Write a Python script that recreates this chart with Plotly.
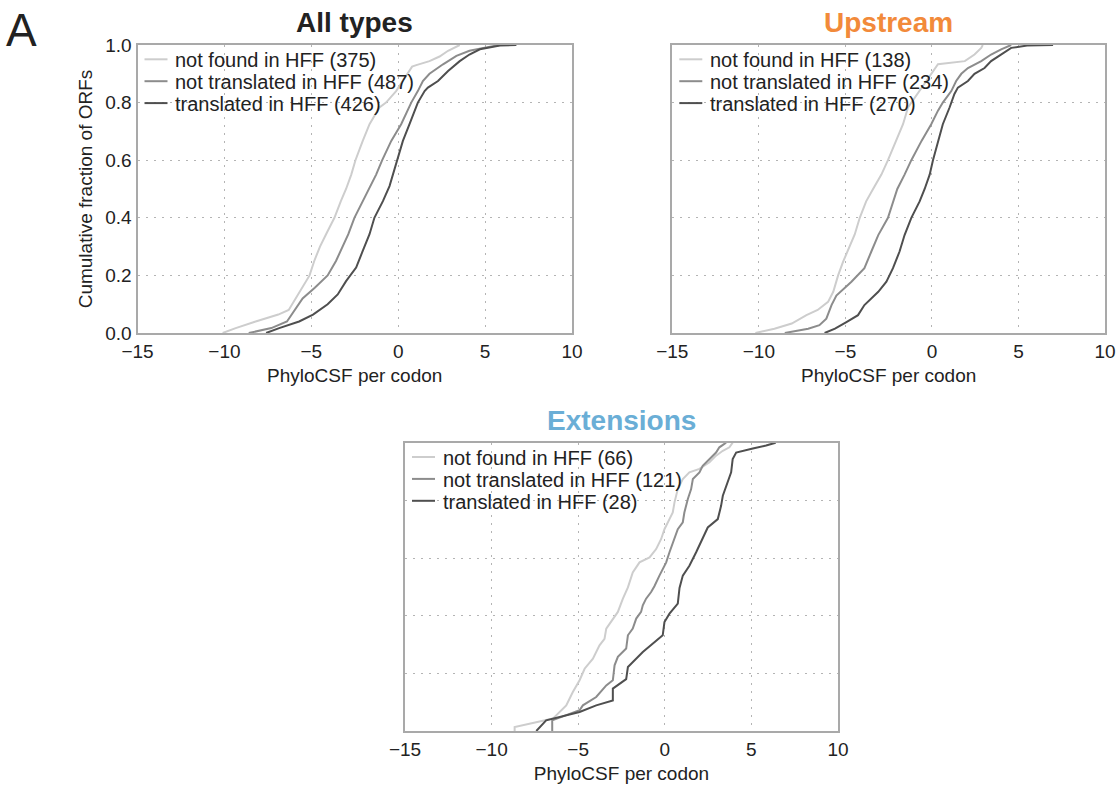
import plotly.graph_objects as go

W, H = 1119, 787

# ---------------- data ----------------
series_names = ["not found in HFF", "not translated in HFF", "translated in HFF"]
panel_titles = ["All types", "Upstream", "Extensions"]

# All types
all_counts = [375, 487, 426]
all_notfound_x = [-10.1, -9.35, -8.2, -6.9, -6.3, -5.9, -5.5, -5.1, -4.83, -4.5, -4.15, -3.67, -3.3, -3.0,
                  -2.7, -2.46, -2.04, -1.65, -1.08, -0.7, -0.12, 0.27, 0.65, 0.8, 1.04, 1.8, 2.38, 2.87, 3.54]
all_notfound_f = [0.0, 0.017, 0.04, 0.064, 0.08, 0.12, 0.157, 0.2, 0.25, 0.3, 0.343, 0.4, 0.458, 0.5,
                  0.55, 0.6, 0.667, 0.725, 0.783, 0.8, 0.84, 0.875, 0.91, 0.925, 0.93, 0.944, 0.96, 0.98, 1.0]
all_nottrans_x = [-8.6, -7.3, -6.4, -6.0, -5.5, -4.8, -4.06, -3.58, -3.2, -2.87, -2.52, -2.04, -1.65,
                  -1.27, -0.92, -0.4, 0.17, 0.75, 1.13, 1.42, 1.8, 2.58, 3.35, 4.1, 4.9, 5.85]
all_nottrans_f = [0.0, 0.017, 0.04, 0.075, 0.12, 0.157, 0.2, 0.25, 0.3, 0.343, 0.4, 0.458, 0.5,
                  0.55, 0.6, 0.667, 0.725, 0.8, 0.84, 0.875, 0.9, 0.933, 0.962, 0.98, 0.99, 1.0]
all_trans_x = [-7.6, -6.85, -5.7, -4.9, -4.06, -3.48, -3.0, -2.42, -2.04, -1.65, -1.37, -0.88, -0.5,
               -0.3, -0.08, 0.27, 0.65, 1.13, 1.52, 1.71, 2.29, 2.87, 3.54, 4.1, 4.7, 5.85, 6.8]
all_trans_f = [0.0, 0.017, 0.04, 0.064, 0.1, 0.134, 0.18, 0.227, 0.285, 0.343, 0.4, 0.458, 0.51,
               0.55, 0.6, 0.667, 0.725, 0.8, 0.84, 0.852, 0.875, 0.91, 0.944, 0.967, 0.985, 0.998, 1.0]

# Upstream
up_counts = [138, 234, 270]
up_notfound_x = [-10.2, -9.1, -8.1, -7.25, -6.6, -6.0, -5.7, -5.42, -5.13, -4.75, -4.46, -4.17, -3.8, -3.4,
                 -2.92, -2.54, -2.06, -1.67, -1.38, -0.71, -0.04, 0.35, 1.9, 2.46, 2.85, 2.94]
up_notfound_f = [0.0, 0.015, 0.033, 0.062, 0.08, 0.108, 0.143, 0.2, 0.248, 0.3, 0.342, 0.4, 0.457, 0.5,
                 0.55, 0.6, 0.667, 0.725, 0.783, 0.84, 0.9, 0.933, 0.944, 0.967, 0.99, 1.0]
up_nottrans_x = [-8.5, -7.15, -6.5, -6.1, -5.8, -5.52, -4.65, -3.9, -3.5, -3.1, -2.54, -2.25, -2.0,
                 -1.58, -1.19, -0.6, -0.04, 0.35, 0.63, 1.12, 1.4, 1.7, 2.08, 2.85, 3.42, 4.0, 4.58]
up_nottrans_f = [0.0, 0.015, 0.027, 0.05, 0.097, 0.13, 0.178, 0.225, 0.283, 0.34, 0.4, 0.457, 0.5,
                 0.55, 0.6, 0.667, 0.725, 0.772, 0.8, 0.84, 0.875, 0.9, 0.92, 0.944, 0.967, 0.985, 1.0]
up_trans_x = [-6.2, -5.6, -4.94, -4.27, -3.9, -3.1, -2.63, -2.25, -1.87, -1.58, -1.19, -0.71, -0.42,
              -0.13, 0.06, 0.35, 0.63, 1.02, 1.3, 1.5, 2.08, 2.46, 3.04, 3.42, 4.0, 4.58, 5.5, 7.0]
up_trans_f = [0.0, 0.015, 0.038, 0.062, 0.097, 0.143, 0.178, 0.225, 0.283, 0.34, 0.4, 0.457, 0.5,
              0.55, 0.6, 0.667, 0.725, 0.783, 0.83, 0.852, 0.875, 0.9, 0.92, 0.944, 0.967, 0.99, 0.998, 1.0]

# Extensions
ext_counts = [66, 121, 28]
ext_notfound_x = [-8.67, -8.67, -6.46, -5.69, -5.31, -4.92, -4.63, -4.15, -3.77, -3.48, -3.38, -3.0, -2.71,
                  -2.42, -2.13, -1.85, -1.46, -0.88, -0.5, -0.21, -0.02, 0.27, 0.46, 0.56, 0.75, 1.04,
                  1.42, 2.0, 2.58, 2.96, 3.35, 3.73, 3.92]
ext_notfound_f = [0.0, 0.014, 0.043, 0.089, 0.135, 0.176, 0.216, 0.251, 0.297, 0.32, 0.355, 0.39, 0.413,
                  0.459, 0.498, 0.55, 0.585, 0.602, 0.631, 0.666, 0.70, 0.735, 0.758, 0.793, 0.839, 0.874,
                  0.897, 0.909, 0.932, 0.955, 0.972, 0.984, 1.0]
ext_nottrans_x = [-6.5, -6.5, -4.92, -4.73, -3.96, -3.38, -3.0, -2.9, -2.71, -2.23, -2.13, -1.85, -1.65,
                  -1.37, -1.27, -1.08, -0.79, -0.6, -0.31, 0.08, 0.27, 0.56, 0.75, 1.04, 1.13, 1.33,
                  1.52, 1.62, 2.0, 2.19, 2.58, 2.96, 3.15, 3.54]
ext_nottrans_f = [0.0, 0.037, 0.072, 0.089, 0.118, 0.158, 0.176, 0.228, 0.257, 0.286, 0.332, 0.355, 0.39,
                  0.413, 0.436, 0.459, 0.482, 0.502, 0.539, 0.585, 0.62, 0.666, 0.70, 0.724, 0.758, 0.805,
                  0.839, 0.874, 0.897, 0.92, 0.943, 0.966, 0.984, 1.0]
ext_trans_x = [-7.42, -6.85, -4.92, -3.96, -3.0, -3.0, -2.23, -2.13, -1.27, -0.12, -0.02, 0.27, 0.75,
               0.85, 1.04, 1.42, 1.81, 2.19, 2.48, 3.06, 3.25, 3.35, 3.63, 3.83, 3.92, 4.12, 5.08, 5.85, 6.4]
ext_trans_f = [0.0, 0.037, 0.066, 0.089, 0.106, 0.147, 0.18, 0.222, 0.274, 0.332, 0.378, 0.407, 0.442,
               0.496, 0.539, 0.573, 0.62, 0.666, 0.706, 0.735, 0.781, 0.816, 0.862, 0.897, 0.943, 0.966,
               0.98, 0.99, 1.0]

x_tick_vals = [-15, -10, -5, 0, 5, 10]
y_tick_vals = [0.0, 0.2, 0.4, 0.6, 0.8, 1.0]

# ---------------- styling ----------------
line_colors = ["#cdcdcd", "#8c8c8c", "#4f4f4f"]
title_colors = ["#222222", "#f28a3a", "#6aaed6"]
FONT = "Liberation Sans, Arial, sans-serif"
frame_col = "#a9a9a9"
grid_col = "#b4b4b4"
text_col = "#222222"


def px_x(p):  # page pixel -> paper fraction
    return p / W


def px_y(p):
    return 1 - p / H


# panel pixel boxes on the page (left, right, top, bottom)
boxes = [(137.5, 572.0, 45.0, 333.0), (672.3, 1105.0, 45.0, 333.0), (405.0, 838.0, 442.7, 731.0)]

panels = [
    (all_counts, [(all_notfound_x, all_notfound_f), (all_nottrans_x, all_nottrans_f), (all_trans_x, all_trans_f)]),
    (up_counts, [(up_notfound_x, up_notfound_f), (up_nottrans_x, up_nottrans_f), (up_trans_x, up_trans_f)]),
    (ext_counts, [(ext_notfound_x, ext_notfound_f), (ext_nottrans_x, ext_nottrans_f), (ext_trans_x, ext_trans_f)]),
]

fig = go.Figure()
shapes = []
annotations = []

for pi, (counts, curves) in enumerate(panels):
    xa = "x" if pi == 0 else f"x{pi + 1}"
    ya = "y" if pi == 0 else f"y{pi + 1}"
    l, r, t, b = boxes[pi]
    for si, (xs, fs) in enumerate(curves):
        label = f"{series_names[si]} ({counts[si]})"
        fig.add_trace(go.Scatter(
            x=xs, y=fs, mode="lines",
            line=dict(color=line_colors[si], width=2),
            name=label, xaxis=xa, yaxis=ya, showlegend=False,
            hoverinfo="skip",
        ))
        # legend entry drawn inside the panel (upper left)
        row_y = t + 14.3 + 21.9 * si
        shapes.append(dict(
            type="line", xref="paper", yref="paper",
            x0=px_x(l + 7), x1=px_x(l + 30), y0=px_y(row_y), y1=px_y(row_y),
            line=dict(color=line_colors[si], width=2),
        ))
        annotations.append(dict(
            text=label, x=px_x(l + 35.5), y=px_y(row_y + 1), xref="paper", yref="paper",
            xanchor="left", yanchor="middle", showarrow=False,
            font=dict(family=FONT, size=20, color=text_col),
        ))

layout = dict(
    width=W, height=H,
    margin=dict(l=0, r=0, t=0, b=0),
    paper_bgcolor="white", plot_bgcolor="white",
    font=dict(family=FONT, size=19, color=text_col),
    showlegend=False,
)

for pi, (l, r, t, b) in enumerate(boxes):
    suffix = "" if pi == 0 else str(pi + 1)
    layout["xaxis" + suffix] = dict(
        domain=[px_x(l), px_x(r)], range=[-15, 10], anchor="y" + suffix,
        tickvals=x_tick_vals, showgrid=True, gridcolor=grid_col, griddash="2px,6px", gridwidth=1,
        zeroline=False, showline=True, mirror=True, linecolor=frame_col, linewidth=2,
        ticks="", tickfont=dict(size=19, color=text_col), automargin=False,
        ticklabeloverflow="allow",
        title=dict(text="PhyloCSF per codon", font=dict(size=19, color=text_col), standoff=8),
    )
    layout["yaxis" + suffix] = dict(
        domain=[px_y(b), px_y(t)], range=[0, 1], anchor="x" + suffix,
        tickvals=y_tick_vals, tickformat=".1f", showgrid=True, gridcolor=grid_col,
        griddash="2px,6px", gridwidth=1, zeroline=False, showline=True, mirror=True,
        linecolor=frame_col, linewidth=2, ticks="", showticklabels=(pi == 0),
        tickfont=dict(size=19, color=text_col), automargin=False,
        title=dict(text="Cumulative fraction of ORFs" if pi == 0 else "",
                   font=dict(size=19, color=text_col), standoff=8),
    )

for pi, (l, r, t, b) in enumerate(boxes):
    annotations.append(dict(
        text=f"<b>{panel_titles[pi]}</b>", x=px_x((l + r) / 2), y=px_y(t - 5),
        xref="paper", yref="paper", xanchor="center", yanchor="bottom", showarrow=False,
        font=dict(family=FONT, size=28, color=title_colors[pi]),
    ))
annotations.append(dict(
    text="A", x=px_x(4), y=px_y(2), xref="paper", yref="paper", xanchor="left", yanchor="top",
    showarrow=False, font=dict(family=FONT, size=46, color=text_col),
))
layout["annotations"] = annotations
layout["shapes"] = shapes

fig.update_layout(**layout)
fig.write_html(
    "out.html",
    config={"displayModeBar": False},
    post_script="document.body.style.margin='0';document.body.style.overflow='hidden';",
)
